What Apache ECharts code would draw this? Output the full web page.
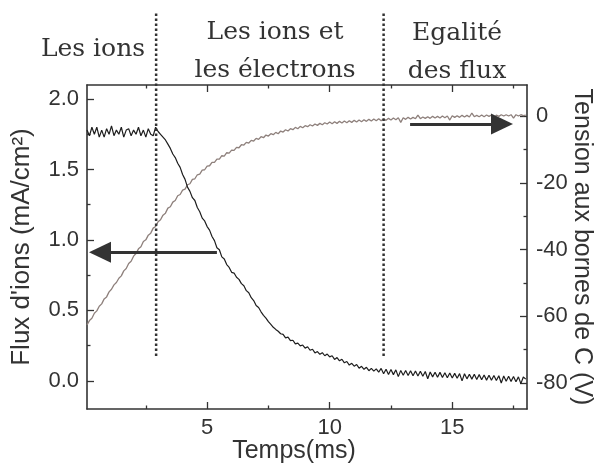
<!DOCTYPE html>
<html><head><meta charset="utf-8">
<script src="https://cdn.jsdelivr.net/npm/echarts@6/dist/echarts.min.js"></script>
<style>html,body{margin:0;padding:0;background:#fff}#c{width:598px;height:466px}</style>
</head><body><div id="c"></div>
<script>
// ---- data ----
const time = [
0.1,0.2,0.3,0.4,0.5,0.6,0.7,0.8,0.9,1.0,
1.1,1.2,1.3,1.4,1.5,1.6,1.7,1.8,1.9,2.0,
2.1,2.2,2.3,2.4,2.5,2.6,2.7,2.8,2.9,3.0,
3.1,3.2,3.3,3.4,3.5,3.6,3.7,3.8,3.9,4.0,
4.1,4.2,4.3,4.4,4.5,4.6,4.7,4.8,4.9,5.0,
5.1,5.2,5.3,5.4,5.5,5.6,5.7,5.8,5.9,6.0,
6.1,6.2,6.3,6.4,6.5,6.6,6.7,6.8,6.9,7.0,
7.1,7.2,7.3,7.4,7.5,7.6,7.7,7.8,7.9,8.0,
8.1,8.2,8.3,8.4,8.5,8.6,8.7,8.8,8.9,9.0,
9.1,9.2,9.3,9.4,9.5,9.6,9.7,9.8,9.9,10.0,
10.1,10.2,10.3,10.4,10.5,10.6,10.7,10.8,10.9,11.0,
11.1,11.2,11.3,11.4,11.5,11.6,11.7,11.8,11.9,12.0,
12.1,12.2,12.3,12.4,12.5,12.6,12.7,12.8,12.9,13.0,
13.1,13.2,13.3,13.4,13.5,13.6,13.7,13.8,13.9,14.0,
14.1,14.2,14.3,14.4,14.5,14.6,14.7,14.8,14.9,15.0,
15.1,15.2,15.3,15.4,15.5,15.6,15.7,15.8,15.9,16.0,
16.1,16.2,16.3,16.4,16.5,16.6,16.7,16.8,16.9,17.0,
17.1,17.2,17.3,17.4,17.5,17.6,17.7,17.8,17.9,18.0];

const ionFlux = [
1.78,1.74,1.80,1.75,1.80,1.73,1.78,1.73,1.79,1.75,
1.81,1.74,1.78,1.75,1.80,1.73,1.78,1.79,1.74,1.78,
1.75,1.80,1.74,1.78,1.73,1.79,1.75,1.74,1.80,1.77,
1.75,1.73,1.71,1.68,1.65,1.61,1.585,1.545,1.515,1.465,
1.43,1.375,1.345,1.30,1.28,1.23,1.20,1.155,1.135,1.095,
1.07,1.025,0.995,0.945,0.93,0.88,0.865,0.825,0.805,0.77,
0.765,0.735,0.72,0.69,0.675,0.64,0.625,0.59,0.57,0.535,
0.52,0.49,0.465,0.445,0.42,0.40,0.38,0.365,0.352,0.334,
0.33,0.305,0.31,0.285,0.288,0.262,0.268,0.248,0.254,0.232,
0.242,0.217,0.224,0.198,0.208,0.188,0.2,0.178,0.19,0.17,
0.178,0.152,0.165,0.142,0.153,0.128,0.137,0.112,0.124,0.104,
0.116,0.09,0.103,0.082,0.096,0.072,0.088,0.069,0.085,0.062,
0.088,0.05,0.082,0.045,0.08,0.044,0.078,0.03,0.074,0.04,
0.073,0.038,0.072,0.036,0.07,0.034,0.068,0.032,0.066,0.015,
0.063,0.028,0.061,0.026,0.06,0.024,0.058,0.022,0.056,0.02,
0.053,0.018,0.051,0.0,0.05,0.014,0.047,0.012,0.046,0.01,
0.044,0.008,0.042,0.005,0.04,0.004,0.038,0.002,0.036,-0.015,
0.034,-0.003,0.032,-0.004,0.03,-0.006,0.028,-0.02,0.027,0.012];

const voltage = [
-62.6,-61.3,-60.6,-59.1,-58.4,-57.0,-56.3,-54.8,-54.2,-52.7,
-51.9,-50.6,-49.9,-48.6,-47.9,-46.4,-45.7,-44.2,-43.5,-42.0,
-41.2,-39.8,-39.2,-37.6,-37.1,-35.7,-35.1,-33.6,-33.1,-31.7,
-31.1,-29.7,-29.1,-27.6,-27.2,-25.8,-25.3,-23.9,-23.5,-22.2,
-21.9,-20.6,-20.3,-19.0,-18.8,-17.6,-17.4,-16.2,-16.1,-15.0,
-14.9,-13.9,-13.9,-12.9,-12.9,-11.9,-12.0,-11.0,-11.1,-10.2,
-10.3,-9.4,-9.5,-8.6,-8.7,-7.9,-8.1,-7.3,-7.5,-6.7,
-7.0,-6.2,-6.5,-5.7,-6.0,-5.3,-5.6,-4.9,-5.3,-4.5,
-4.8,-4.1,-4.5,-3.8,-4.1,-3.4,-3.8,-3.1,-3.5,-2.9,
-3.2,-2.6,-3.0,-2.4,-2.8,-2.2,-2.6,-2.0,-2.4,-1.8,
-2.3,-1.7,-2.2,-1.6,-2.1,-1.5,-2.0,-1.4,-1.9,-1.3,
-1.8,-1.2,-1.7,-1.1,-1.6,-1.0,-1.5,-0.9,-1.4,-0.8,
-1.4,-0.8,-1.3,-0.7,-1.2,-0.6,-1.1,-0.5,-1.9,-0.5,
-1.0,-0.4,-0.9,-0.4,-0.8,0.3,-0.8,-0.3,-0.7,-0.2,
-0.7,-0.1,-0.6,-0.1,-0.6,0.0,-0.5,0.0,-1.2,0.1,
-0.4,0.1,-0.4,0.2,-0.3,0.2,-0.3,0.9,-0.2,0.2,
-0.2,0.3,-0.2,0.3,-0.1,0.3,-0.9,0.3,-0.1,0.4,
0.0,0.4,0.0,0.4,-0.6,0.4,0.0,0.4,0.1,0.3];

const xTickMajor = [5, 10, 15];
const xTickMinor = [2.5, 7.5, 12.5, 17.5];
const fluxTickMajor = [0, 0.5, 1, 1.5, 2];
const fluxTickMinor = [0.25, 0.75, 1.25, 1.75];
const voltTickMajor = [0, -20, -40, -60, -80];
const voltTickMinor = [-10, -30, -50, -70];
const phaseBoundaries = [2.92, 12.2];
const ionArrow = [[5.4, 0.913], [0.63, 0.913]];
const voltArrow = [[13.28, -2.4], [17.03, -2.4]];
const phaseLabels = ['Les ions', 'Les ions et\nles électrons', 'Egalité\ndes flux'];
const phaseLabelCenters = [93, 275, 457];
const phaseLabelTops = [30, 13, 14];

// ---- chart ----
const INK = '#333';
const SANS = 'Liberation Sans';
const X_RANGE = {min: 0.1, max: 18.05};
const FLUX_RANGE = {min: -0.2, max: 2.1};
const VOLT_RANGE = {min: -87.8, max: 9.3};

function tickAxis(base, ticks, len, showLine) {
  return Object.assign({
    type: 'value', gridIndex: 0,
    splitLine: {show: false},
    nameMoveOverlap: false,
    axisLine: {show: showLine, onZero: false, lineStyle: {color: INK, width: 1.6}},
    axisTick: {show: true, inside: true, length: len, customValues: ticks, lineStyle: {color: INK, width: 1.3}},
    axisLabel: {show: false}
  }, base);
}

const xAxes = [
  tickAxis(Object.assign({position: 'bottom',
    name: 'Temps(ms)', nameLocation: 'middle', nameGap: 30,
    nameTextStyle: {fontFamily: SANS, fontSize: 25, color: INK, padding: [0, 26, 0, 0]}}, X_RANGE), xTickMajor, 7, true),
  tickAxis(Object.assign({position: 'bottom'}, X_RANGE), xTickMinor, 3.5, false),
  tickAxis(Object.assign({position: 'top'}, X_RANGE), xTickMajor, 7, true),
  tickAxis(Object.assign({position: 'top'}, X_RANGE), xTickMinor, 3.5, false),
  Object.assign({type: 'value', gridIndex: 1, show: false}, X_RANGE)
];
xAxes[0].axisLabel = {show: true, customValues: xTickMajor, margin: 8, fontFamily: SANS, fontSize: 22, color: INK};

const yAxes = [
  tickAxis(Object.assign({position: 'left',
    name: "Flux d'ions (mA/cm²)", nameLocation: 'middle', nameGap: 52, nameRotate: 90,
    nameTextStyle: {fontFamily: SANS, fontSize: 26, color: INK}}, FLUX_RANGE), fluxTickMajor, 7, true),
  tickAxis(Object.assign({position: 'left'}, FLUX_RANGE), fluxTickMinor, 3.5, false),
  tickAxis(Object.assign({position: 'right',
    name: 'Tension aux bornes de C (V)', nameLocation: 'middle', nameGap: 42, nameRotate: -90,
    nameTextStyle: {fontFamily: SANS, fontSize: 25, color: INK}}, VOLT_RANGE), voltTickMajor, 7, true),
  tickAxis(Object.assign({position: 'right'}, VOLT_RANGE), voltTickMinor, 3.5, false),
  {type: 'value', gridIndex: 1, show: false, min: 0, max: 1}
];
yAxes[0].axisLabel = {show: true, customValues: fluxTickMajor, margin: 8, fontFamily: SANS, fontSize: 22, color: INK,
  formatter: v => v.toFixed(1)};
yAxes[2].axisLabel = {show: true, customValues: voltTickMajor, margin: 9, fontFamily: SANS, fontSize: 22, color: INK};

function arrowLine(pts) {
  return {
    silent: true, symbol: ['none', 'triangle'], symbolSize: [21, 22],
    label: {show: false},
    lineStyle: {color: INK, width: 3, type: 'solid'},
    itemStyle: {color: INK},
    emphasis: {disabled: true},
    data: [[{coord: pts[0]}, {coord: pts[1]}]]
  };
}

const series = [
  {type: 'line', name: 'tension', xAxisIndex: 0, yAxisIndex: 2, showSymbol: false, symbol: 'none',
   data: time.map((t, i) => [t, voltage[i]]), lineStyle: {color: '#8e807c', width: 1.3}, z: 2,
   markLine: arrowLine(voltArrow)},
  {type: 'line', name: 'flux', xAxisIndex: 0, yAxisIndex: 0, showSymbol: false, symbol: 'none',
   data: time.map((t, i) => [t, ionFlux[i]]), lineStyle: {color: '#1e1e1e', width: 1.2}, z: 3,
   markLine: arrowLine(ionArrow)}
];
phaseBoundaries.forEach(x => series.push({
  type: 'line', xAxisIndex: 4, yAxisIndex: 4, showSymbol: false, symbol: 'none', silent: true,
  data: [[x, 0], [x, 1]], lineStyle: {color: INK, width: 2.5, type: [2.5, 2.5]}, z: 4
}));

const titles = phaseLabels.map((txt, i) => ({
  text: txt, left: phaseLabelCenters[i], top: phaseLabelTops[i], textAlign: 'center', padding: 0,
  textStyle: {fontFamily: 'DejaVu Serif', fontSize: 25, fontWeight: 'normal', color: INK, lineHeight: 38}
}));

const chart = echarts.init(document.getElementById('c'), null, {renderer: 'canvas'});
chart.setOption({
  animation: false,
  backgroundColor: '#fff',
  title: titles,
  grid: [
    {left: 87, right: 71, top: 85, bottom: 57, containLabel: false, outerBoundsMode: 'none'},
    {left: 87, right: 71, top: 13, bottom: 110, containLabel: false, outerBoundsMode: 'none'}
  ],
  xAxis: xAxes,
  yAxis: yAxes,
  series: series
});
</script>
</body></html>
